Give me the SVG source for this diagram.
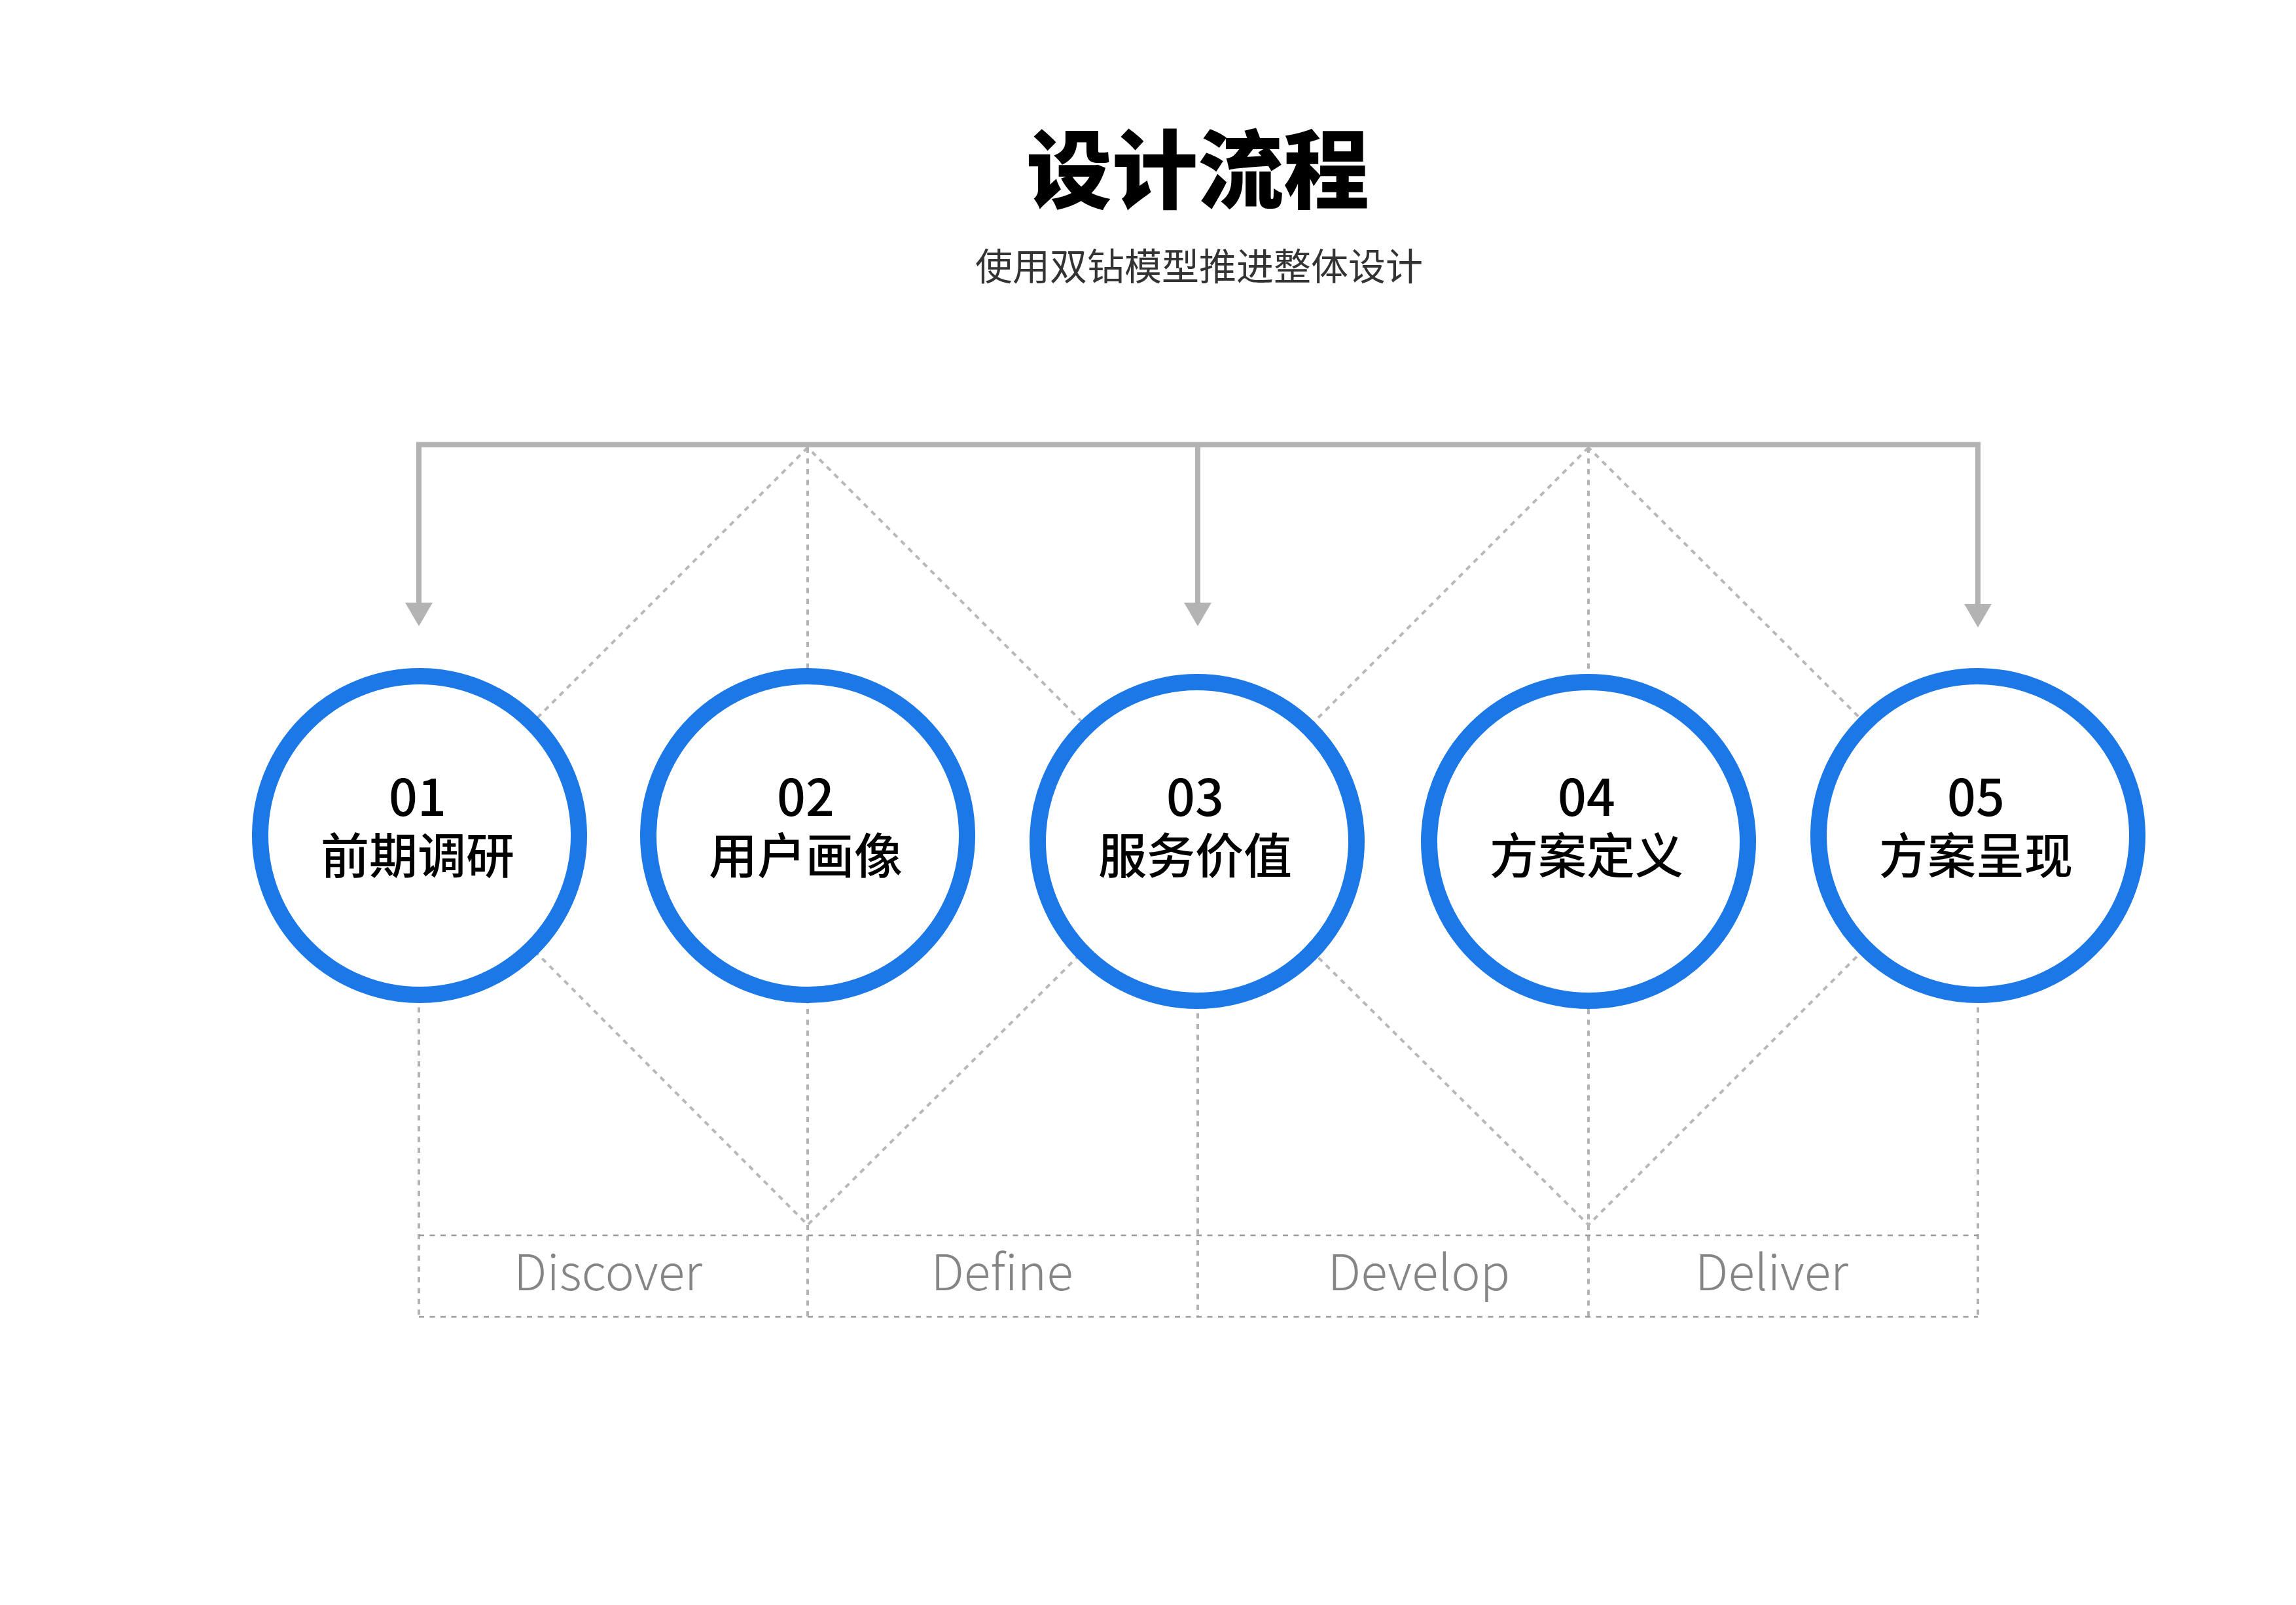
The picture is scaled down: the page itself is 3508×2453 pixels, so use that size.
<svg xmlns="http://www.w3.org/2000/svg" width="3508" height="2453" viewBox="0 0 3508 2453">
<style>
.title{font-family:"Noto Sans CJK SC","Noto Sans",sans-serif;font-weight:900;font-size:131px;fill:#000;text-anchor:middle}
.sub{font-family:"Noto Sans CJK SC","Noto Sans",sans-serif;font-weight:400;font-size:57px;fill:#333;text-anchor:middle}
.ring{fill:#fff;stroke:#1b78e6;stroke-width:25}
.node-text{font-family:"Noto Sans CJK SC","Noto Sans",sans-serif;font-weight:500;fill:#000;text-anchor:middle}
.num{font-size:77px}
.lbl{font-size:74px}
.phase{font-family:"Noto Sans CJK SC","Noto Sans",sans-serif;font-weight:300;font-size:75px;fill:#858585;text-anchor:middle}
.solid{fill:none;stroke:#b3b3b3;stroke-width:8}
.diag{fill:none;stroke:#b8b8b8;stroke-width:4;stroke-dasharray:8 8}
.vert{fill:none;stroke:#b3b3b3;stroke-width:4;stroke-dasharray:8 8.5}
.hor{fill:none;stroke:#9a9a9a;stroke-width:2.5;stroke-dasharray:8 8.5}
</style>
<defs>
<marker id="arr" markerUnits="userSpaceOnUse" markerWidth="36" markerHeight="42" viewBox="0 0 36 42" refX="1" refY="21" orient="auto">
<path d="M0,0 L36,21 L0,42 Z" fill="#b3b3b3"/>
</marker>
</defs>
<rect width="3508" height="2453" fill="#fff"/>
<g id="header">
<text class="title" x="1830" y="308">设计流程</text>
<text class="sub" x="1832" y="428">使用双钻模型推进整体设计</text>
</g>
<g id="connectors">
<path class="diag" d="M1234,684 L641,1277 L1234,1872 L1830,1280 Z"/>
<path class="diag" d="M2427,684 L1830,1281 L2427,1872 L3022,1277 Z"/>
<line class="vert" x1="1234" y1="684" x2="1234" y2="2012"/>
<line class="vert" x1="2427" y1="684" x2="2427" y2="2012"/>
<line class="vert" x1="640" y1="1523" x2="640" y2="2012"/>
<line class="vert" x1="1830" y1="1532" x2="1830" y2="2012"/>
<line class="vert" x1="3022" y1="1523" x2="3022" y2="2012"/>
<line class="hor" x1="640" y1="1888" x2="3022" y2="1888"/>
<line class="hor" x1="640" y1="2012.5" x2="3022" y2="2012.5"/>
<line class="solid" x1="636" y1="679.5" x2="3026" y2="679.5"/>
<line class="solid" x1="640" y1="679.5" x2="640" y2="922" marker-end="url(#arr)"/>
<line class="solid" x1="1830" y1="679.5" x2="1830" y2="922" marker-end="url(#arr)"/>
<line class="solid" x1="3022" y1="679.5" x2="3022" y2="924" marker-end="url(#arr)"/>
</g>
<g id="node1">
<circle class="ring" cx="641" cy="1277" r="243.5"/>
<text class="node-text" x="638" y="1247"><tspan class="num">01</tspan><tspan class="lbl" x="638" y="1335">前期调研</tspan></text>
</g>
<g id="node2">
<circle class="ring" cx="1234" cy="1277" r="243.5"/>
<text class="node-text" x="1231" y="1247"><tspan class="num">02</tspan><tspan class="lbl" x="1231" y="1335">用户画像</tspan></text>
</g>
<g id="node3">
<circle class="ring" cx="1829" cy="1286" r="243.5"/>
<text class="node-text" x="1826" y="1247"><tspan class="num">03</tspan><tspan class="lbl" x="1826" y="1335">服务价值</tspan></text>
</g>
<g id="node4">
<circle class="ring" cx="2427" cy="1286" r="243.5"/>
<text class="node-text" x="2424" y="1247"><tspan class="num">04</tspan><tspan class="lbl" x="2424" y="1335">方案定义</tspan></text>
</g>
<g id="node5">
<circle class="ring" cx="3022" cy="1277" r="243.5"/>
<text class="node-text" x="3019" y="1247"><tspan class="num">05</tspan><tspan class="lbl" x="3019" y="1335">方案呈现</tspan></text>
</g>
<g id="phases">
<text class="phase" x="929" y="1972">Discover</text>
<text class="phase" x="1531" y="1972">Define</text>
<text class="phase" x="2168" y="1972">Develop</text>
<text class="phase" x="2707" y="1972">Deliver</text>
</g>
</svg>
